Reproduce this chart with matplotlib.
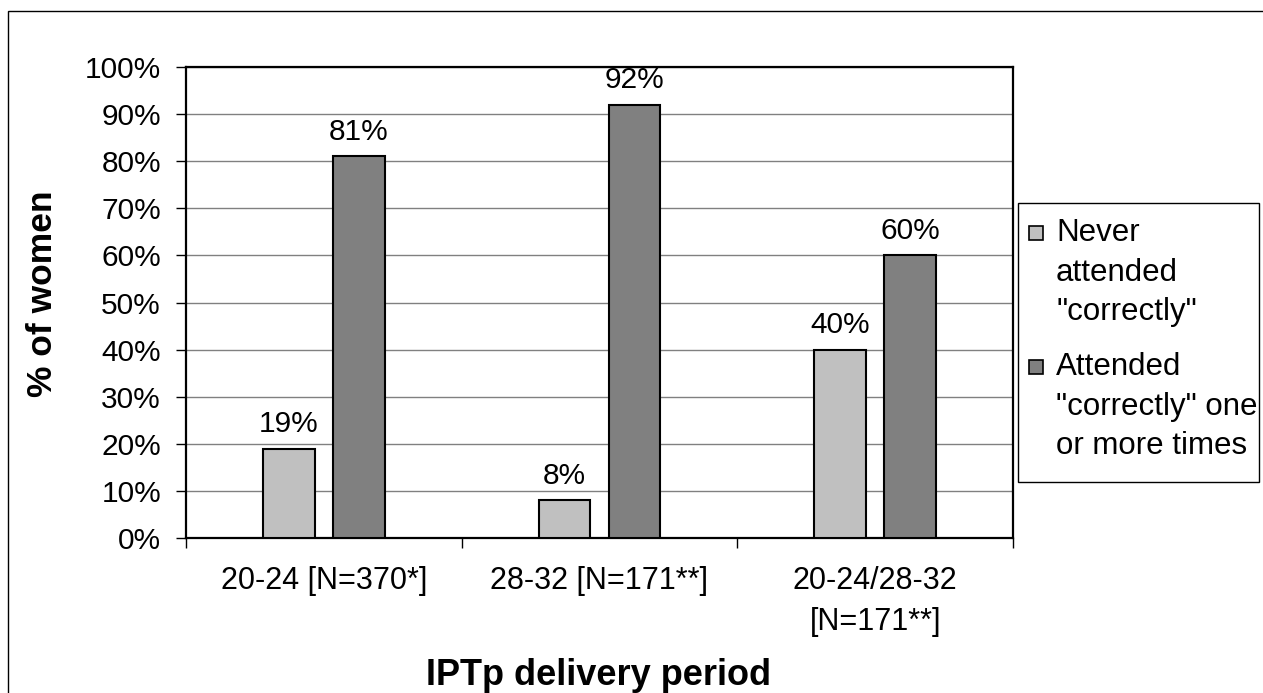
import matplotlib
matplotlib.use("Agg")
import matplotlib.pyplot as plt
from matplotlib.patches import Rectangle
import numpy as np

plt.rcParams['font.family'] = ['Liberation Sans', 'DejaVu Sans']

categories = ["20-24 [N=370*]", "28-32 [N=171**]", "20-24/28-32\n[N=171**]"]
never_vals = [19, 8, 40]
attended_vals = [81, 92, 60]
series_labels = ["Never\nattended\n\"correctly\"", "Attended\n\"correctly\" one\nor more times"]
series_colors = ["#C0C0C0", "#808080"]
yticks = list(range(0, 101, 10))

W, H = 1263, 693
fig = plt.figure(figsize=(W / 100, H / 100), dpi=100)
fig.patch.set_facecolor("white")

# outer chart border
fig.patches.append(Rectangle((8 / W, -0.1), 1.2, 1.1 - 11 / H, transform=fig.transFigure,
                             fill=False, edgecolor="black", linewidth=1.0))

ax = fig.add_axes([186 / W, 1 - 538 / H, (1013 - 186) / W, (538 - 67) / H])

x = np.arange(len(categories))
bw = 0.187
off = 0.127
for vals, sign, col in [(never_vals, -1, series_colors[0]), (attended_vals, 1, series_colors[1])]:
    bars = ax.bar(x + sign * off, vals, width=bw, color=col, edgecolor="black", linewidth=1.5, zorder=3)
    for b, v in zip(bars, vals):
        ax.annotate(f"{v}%", (b.get_x() + b.get_width() / 2, v), xytext=(0, 12),
                    textcoords="offset points", ha="center", va="baseline", fontsize=21.5)

ax.set_xlim(-0.5, len(categories) - 0.5)
ax.set_ylim(0, 100)
ax.set_yticks(yticks)
ax.set_yticklabels([f"{t}%" for t in yticks], fontsize=21.5)
ax.yaxis.grid(True, color="#808080", linewidth=1.0, zorder=0)
ax.set_axisbelow(True)

ax.set_xticks(x)
ax.set_xticklabels(categories, fontsize=22, linespacing=1.5)
ax.tick_params(axis="x", which="major", length=0, pad=20)
ax.set_xticks(np.arange(-0.5, len(categories), 1.0), minor=True)
ax.tick_params(axis="x", which="minor", length=7, width=1.0, direction="out")
ax.tick_params(axis="y", length=7, width=1.0, direction="out", pad=11)

for s in ax.spines.values():
    s.set_linewidth(1.6)
    s.set_color("black")

fig.text(43 / W, 1 - 294 / H, "% of women", rotation=90, ha="center", va="center",
         fontsize=25.5, fontweight="bold")
fig.text(599 / W, 1 - 685 / H, "IPTp delivery period", ha="center", va="baseline",
         fontsize=26, fontweight="bold")

# legend box (manual)
fig.patches.append(Rectangle((1018 / W, 1 - 482 / H), (1259 - 1018) / W, (482 - 203) / H,
                             transform=fig.transFigure, facecolor="white",
                             edgecolor="black", linewidth=1.0))
item_tops = [233, 367]
for lab, col, yc in zip(series_labels, series_colors, item_tops):
    fig.patches.append(Rectangle((1029 / W, 1 - (yc + 7) / H), 14 / W, 14 / H,
                                 transform=fig.transFigure, facecolor=col,
                                 edgecolor="black", linewidth=1.2))
    fig.text(1056 / W, 1 - (yc - 15) / H, lab, ha="left", va="top", fontsize=22.5,
             linespacing=1.42)

fig.savefig("out.png", dpi=100)
